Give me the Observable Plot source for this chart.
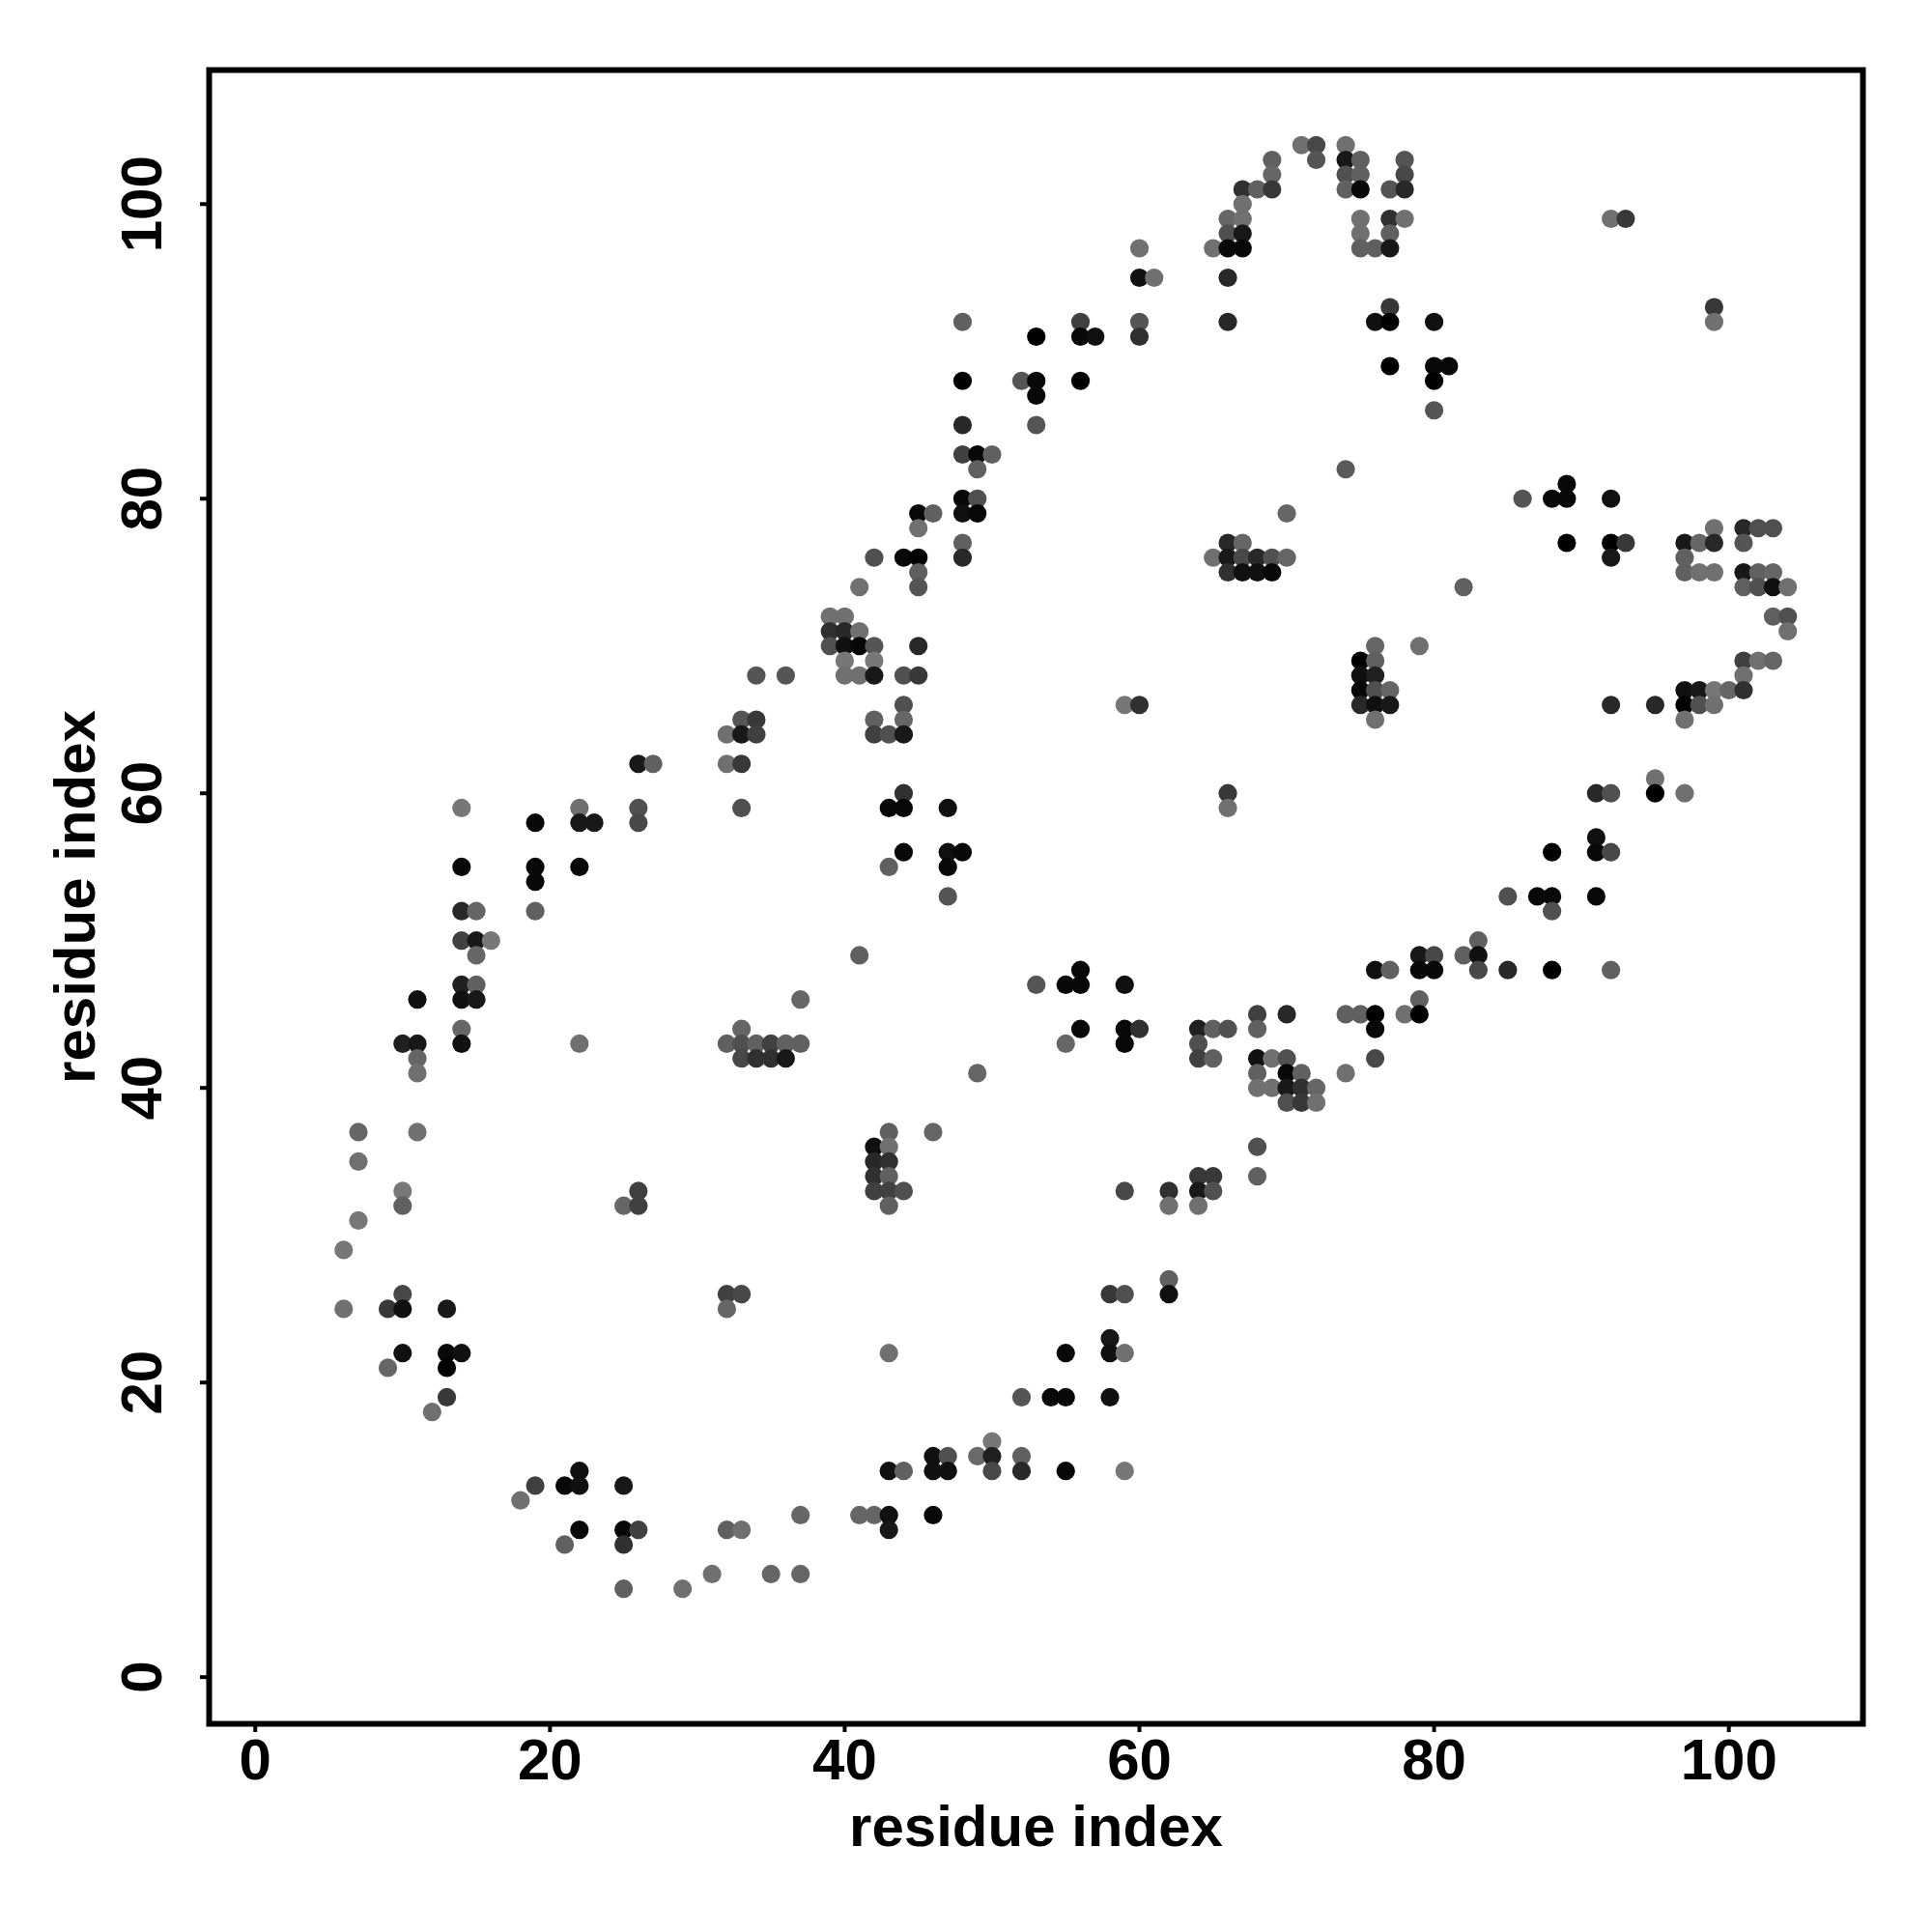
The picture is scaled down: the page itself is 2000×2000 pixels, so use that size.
<!DOCTYPE html>
<html>
<head>
<meta charset="utf-8">
<script src="https://cdn.jsdelivr.net/npm/d3@7"></script>
<script src="https://cdn.jsdelivr.net/npm/@observablehq/plot@0.6"></script>
<style>html,body{margin:0;padding:0;background:#fff}</style>
</head>
<body>
<div id="chart"></div>
<script>
const rowY = [104,103,102,101,100,99,98,97,95,93,92,91,89,88,87,86,85,83,82,81,80,79,78,77,76,75,74,72,71,70,69,68,67,66,65,64,62,61,60,59,58,57,56,55,54,53,52,50,49,48,47,46,45,44,43,42,41,40,39,37,36,35,34,33,32,31,29,27,26,25,23,22,21,19,18,16,15,14,13,12,11,10,9,7,6];
const rowX = [
[71,72,74],[69,72,74,75,78],[69,74,75,78],[67,68,69,74,75,77,78],[67],
[66,67,75,77,78,92,93],[66,67,75,77],[60,65,66,67,75,76,77],[60,61,66],[77,99],
[48,56,60,66,76,77,80,99],[53,56,57,60],[77,80,81],[48,52,53,56,80],[53],
[80],[48,53],[48,49,50],[49,74],[89],
[48,49,86,88,89,92],[45,46,48,49,70],[45,99,101,102,103],[48,66,67,89,92,93,97,98,99,101],[42,44,45,48,65,66,67,68,69,70,92,97],
[45,66,67,68,69,97,98,99,101,102,103],[41,45,82,101,102,103,104],[39,40,103,104],[39,40,41,104],[39,40,41,42,45,76,79],
[40,42,75,76,101,102,103],[34,36,40,41,42,44,45,75,76,101],[75,76,77,97,98,99,100,101],[44,59,60,75,76,77,92,95,97,98,99],[33,34,42,44,76,97],
[32,33,34,42,43,44],[26,27,32,33],[95],[44,66,91,92,95,97],[14,22,26,33,43,44,47,66],
[19,22,23,26],[91],[44,47,48,88,91,92],[14,19,22,43,47],[19],
[47,85,87,88,91],[14,15,19,88],[14,15,16,83],[15,41,79,80,82,83],[56,76,77,79,80,83,85,88,92],
[14,15,53,55,56,59],[11,14,15,37,79],[68,70,74,75,76,78,79],[14,33,56,59,60,64,65,66,68,76],[10,11,14,22,32,33,34,35,36,37,55,59,64],
[11,33,34,35,36,64,65,68,69,70,76],[11,49,68,70,71,74],[68,69,70,71,72],[70,71,72],[7,11,43,46],
[42,43,68],[7,42,43],[42,43,64,65,68],[10,26,42,43,44,59,62,64,65],[10,25,26,43,62,64],
[7],[6],[62],[10,32,33,58,59,62],[6,9,10,13,32],
[58],[10,13,14,43,55,58,59],[9,13],[13,52,54,55,58],[12],
[50],[46,47,49,50,52],[22,43,44,46,47,50,52,55,59],[19,21,22,25],[18],
[37,41,42,43,46],[22,25,26,32,33,43],[21,25],[31,35,37],[25,29]
];
const rowGrey = [
[0x70,0x48,0x70],[0x60,0x55,0x18,0x60,0x55],[0x66,0x50,0x60,0x48],[0x30,0x60,0x38,0x60,0x08,0x55,0x28],[0x70],
[0x66,0x70,0x70,0x30,0x70,0x70,0x38],[0x50,0x18,0x70,0x60],[0x70,0x70,0x08,0x08,0x60,0x60,0x18],[0x10,0x70,0x28],[0x38,0x38],
[0x60,0x40,0x55,0x28,0x10,0x00,0x10,0x70],[0x00,0x08,0x10,0x30],[0x00,0x08,0x08],[0x00,0x55,0x08,0x00,0x00],[0x08],
[0x55],[0x28,0x55],[0x40,0x08,0x60],[0x60,0x5a],[0x08],
[0x08,0x50,0x55,0x08,0x08,0x10],[0x08,0x60,0x10,0x08,0x66],[0x70,0x70,0x28,0x50,0x50],[0x60,0x28,0x66,0x00,0x00,0x38,0x18,0x66,0x28,0x55],[0x50,0x08,0x00,0x28,0x70,0x18,0x48,0x28,0x50,0x66,0x18,0x60],
[0x60,0x30,0x10,0x10,0x08,0x60,0x70,0x70,0x18,0x60,0x66],[0x70,0x55,0x60,0x60,0x50,0x10,0x70],[0x70,0x70,0x60,0x50],[0x30,0x28,0x70,0x70],[0x50,0x10,0x08,0x55,0x28,0x66,0x70],
[0x77,0x77,0x00,0x60,0x40,0x70,0x66],[0x55,0x55,0x70,0x70,0x18,0x50,0x38,0x10,0x20,0x70],[0x08,0x50,0x66,0x10,0x18,0x77,0x66,0x30],[0x50,0x77,0x30,0x28,0x10,0x18,0x28,0x28,0x00,0x50,0x70],[0x55,0x38,0x60,0x66,0x70,0x70],
[0x70,0x18,0x40,0x40,0x50,0x18],[0x18,0x60,0x70,0x38],[0x70],[0x30,0x38,0x28,0x50,0x00,0x70],[0x77,0x70,0x50,0x50,0x08,0x08,0x10,0x70],
[0x08,0x18,0x18,0x48],[0x10],[0x08,0x10,0x08,0x00,0x08,0x48],[0x08,0x08,0x08,0x60,0x08],[0x08],
[0x55,0x50,0x08,0x08,0x08],[0x28,0x66,0x60,0x50],[0x40,0x18,0x77,0x60],[0x66,0x60,0x18,0x48,0x60,0x10],[0x08,0x10,0x60,0x08,0x08,0x48,0x28,0x00,0x60],
[0x20,0x60,0x55,0x08,0x08,0x10],[0x10,0x10,0x18,0x66,0x60],[0x40,0x28,0x60,0x60,0x00,0x70,0x00],[0x66,0x66,0x08,0x08,0x30,0x20,0x60,0x50,0x60,0x08],[0x20,0x18,0x10,0x70,0x60,0x50,0x60,0x40,0x60,0x60,0x66,0x08,0x50],
[0x66,0x48,0x30,0x30,0x18,0x40,0x60,0x10,0x70,0x50,0x48],[0x70,0x66,0x60,0x08,0x60,0x70],[0x70,0x70,0x18,0x30,0x66],[0x50,0x38,0x70],[0x66,0x70,0x60,0x66],
[0x10,0x70,0x50],[0x70,0x28,0x30],[0x30,0x60,0x38,0x38,0x60],[0x78,0x40,0x40,0x40,0x50,0x48,0x30,0x18,0x50],[0x60,0x66,0x40,0x60,0x70,0x70],
[0x77],[0x77],[0x60],[0x48,0x40,0x48,0x38,0x50,0x10],[0x70,0x38,0x10,0x18,0x66],
[0x18],[0x10,0x08,0x10,0x70,0x08,0x10,0x70],[0x66,0x00],[0x38,0x55,0x08,0x08,0x10],[0x70],
[0x77],[0x10,0x50,0x6a,0x20,0x60],[0x10,0x10,0x60,0x10,0x10,0x48,0x28,0x08,0x77],[0x40,0x08,0x10,0x18],[0x70],
[0x66,0x66,0x66,0x10,0x08],[0x08,0x08,0x40,0x60,0x70,0x18],[0x60,0x30],[0x70,0x66,0x66],[0x60,0x70]
];
const ticks = [0,20,40,60,80,100];
const axisLabel = "residue index";

const points = rowY.flatMap((y,i) => rowX[i].map((x,j) => ({x, y, grey: rowGrey[i][j]})));
const font = {fontFamily:"'Liberation Sans'", fontWeight:"bold", fontSize:60};

const chart = Plot.plot({
  width:2000, height:2000,
  marginLeft:216, marginRight:72, marginTop:72, marginBottom:216,
  x:{domain:[-3.13,109.1]},
  y:{domain:[-3.17,109.1]},
  style:{fontFamily:"'Liberation Sans'", background:"#fff", color:"#000"},
  marks:[
    Plot.dot(points,{x:"x",y:"y",r:9.6,fill:d=>`rgb(${d.grey},${d.grey},${d.grey})`}),
    Plot.frame({stroke:"#000",strokeWidth:6}),
    Plot.axisX(ticks,{...font,anchor:"bottom",tickSize:9,strokeWidth:4,tickPadding:6,label:axisLabel,labelAnchor:"center",labelArrow:"none",labelOffset:126}),
    Plot.axisY(ticks,{...font,anchor:"left",tickSize:9,strokeWidth:4,tickPadding:41,tickRotate:-90,label:axisLabel,labelAnchor:"center",labelArrow:"none",labelOffset:161})
  ]
});
document.getElementById("chart").appendChild(chart);
</script>
</body>
</html>
